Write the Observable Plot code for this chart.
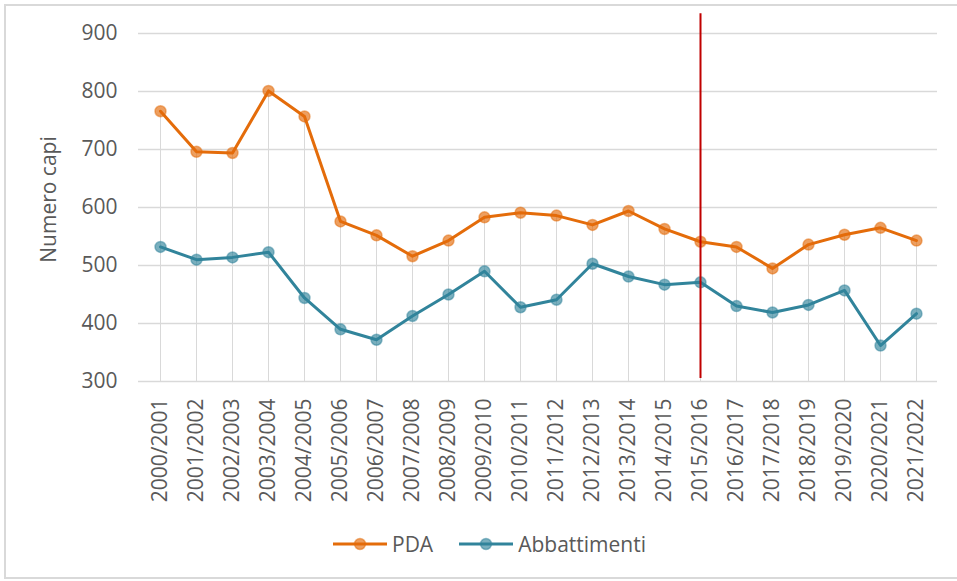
<!DOCTYPE html>
<html><head><meta charset="utf-8">
<script src="https://cdn.jsdelivr.net/npm/d3@7"></script>
<script src="https://cdn.jsdelivr.net/npm/@observablehq/plot@0.6"></script>
<style>
html,body{margin:0;padding:0;background:#fff;overflow:hidden;width:957px;height:581px;font-family:"Open Sans",sans-serif;}
#frame{position:absolute;left:4px;top:4px;width:990px;height:575px;border:2px solid #d9d9d9;box-sizing:border-box;}
#chart{position:absolute;left:0;top:0;}
#legend{position:absolute;left:333px;top:530px;height:28px;display:flex;align-items:center;font-size:21px;color:#595959;line-height:28px;}
#legend .item{display:flex;align-items:center;}
#legend .item + .item{margin-left:26px;}
#legend span{margin-left:5px;}
</style></head><body>
<div id="frame"></div><div id="chart"></div><div id="legend"></div>
<script>
const categories = ["2000/2001","2001/2002","2002/2003","2003/2004","2004/2005","2005/2006","2006/2007","2007/2008","2008/2009","2009/2010","2010/2011","2011/2012","2012/2013","2013/2014","2014/2015","2015/2016","2016/2017","2017/2018","2018/2019","2019/2020","2020/2021","2021/2022"];
const pda = [766,696,694,801,757,576,552,516,543,583,591,586,570,594,563,541,532,495,536,553,565,543];
const abbattimenti = [532,510,514,523,444,390,372,413,450,490,428,441,503,481,467,471,430,419,432,457,362,417];
const yTicks = [300,400,500,600,700,800,900];
const seriesNames = ["PDA","Abbattimenti"];
const seriesColors = ["#E46C0A","#31849B"];
const markerCategory = ["2015/2016"];
const markerRange = [305, 934];
const yLabel = "Numero capi";

const rows = [];
categories.forEach((c,i)=>{
  rows.push({cat:c, series:seriesNames[0], value:pda[i]});
  rows.push({cat:c, series:seriesNames[1], value:abbattimenti[i]});
});
const drops = categories.map((c,i)=>({cat:c, top:Math.max(pda[i], abbattimenti[i])}));

const chart = Plot.plot({
  width: 957,
  height: 520,
  marginLeft: 138,
  marginRight: 20,
  marginTop: 33,
  marginBottom: 139,
  style: {fontFamily: "'Open Sans', sans-serif", fontSize: "21px", background: "transparent"},
  x: {type: "point", domain: categories, padding: 0.5},
  y: {domain: [300, 900]},
  color: {domain: seriesNames, range: seriesColors},
  marks: [
    Plot.ruleY(yTicks, {stroke: "#d9d9d9", strokeWidth: 1.6}),
    Plot.ruleX(drops, {x: "cat", y1: yTicks[0], y2: "top", stroke: "#d9d9d9", strokeWidth: 1}),
    Plot.axisY({ticks: yTicks, tickSize: 0, tickPadding: 21, fontSize: 21, fill: "#595959", label: null}),
    Plot.axisX({tickRotate: -90, tickSize: 0, tickPadding: 17, fontSize: 21, fill: "#595959", label: null}),
    Plot.text([yLabel], {frameAnchor: "left", textAnchor: "middle", dx: -89, dy: -8, rotate: -90, fontSize: 21, fill: "#595959", text: d => d}),
    Plot.line(rows, {x: "cat", y: "value", z: "series", stroke: "series", strokeWidth: 3}),
    Plot.dot(rows, {x: "cat", y: "value", fill: "series", fillOpacity: 0.65, stroke: "series", strokeOpacity: 0.5, strokeWidth: 1.5, r: 5.5}),
    Plot.ruleX(markerCategory, {x: d => d, y1: markerRange[0], y2: markerRange[1], stroke: "#C00000", strokeWidth: 2})
  ]
});
document.getElementById("chart").appendChild(chart);

const legend = document.getElementById("legend");
seriesNames.forEach((name, i) => {
  const item = document.createElement("div");
  item.className = "item";
  const col = seriesColors[i];
  item.innerHTML = `<svg width="54" height="14"><line x1="0" y1="7" x2="54" y2="7" stroke="${col}" stroke-width="3"/><circle cx="27" cy="7" r="5.5" fill="${col}" fill-opacity="0.65" stroke="${col}" stroke-opacity="0.5" stroke-width="1.5"/></svg><span>${name}</span>`;
  legend.appendChild(item);
});
</script>
</body></html>
